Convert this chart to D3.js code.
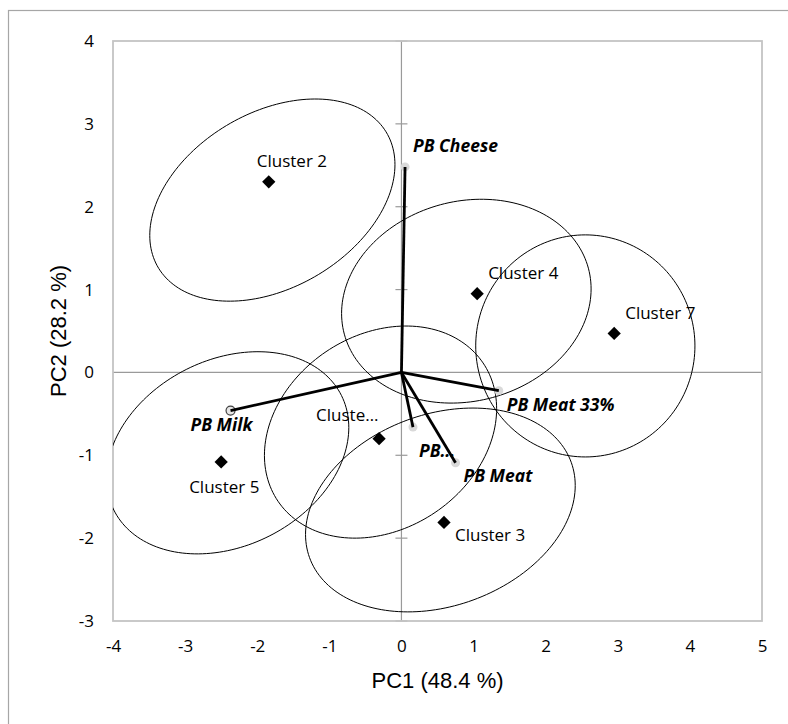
<!DOCTYPE html>
<html>
<head>
<meta charset="utf-8">
<script src="https://cdn.jsdelivr.net/npm/d3@7"></script>
<style>
  body { margin: 0; background: #fff; }
  svg { display: block; }
  .tick-label { font-family: 'Open Sans', sans-serif; font-size: 17px; fill: #000; }
  .axis-title { font-family: 'Liberation Sans', Arial, sans-serif; font-size: 22px; fill: #000; }
  .cluster-label { font-family: 'Open Sans', sans-serif; font-size: 17px; fill: #000; }
  .loading-label { font-family: 'Open Sans', sans-serif; font-size: 17.5px; font-weight: bold; font-style: italic; fill: #000; }
</style>
</head>
<body>
<svg id="chart"></svg>
<script>
'use strict';

// cluster centroids
const clusterNames = ['Cluster 2', 'Cluster 4', 'Cluster 7', 'Cluster 5', 'Cluste\u2026', 'Cluster 3'];
const clusterPC1 = [-1.84, 1.05, 2.95, -2.50, -0.31, 0.59];
const clusterPC2 = [2.30, 0.95, 0.47, -1.08, -0.80, -1.81];

// confidence ellipses: centre, half extent along each axis, correlation
const ellipseCX = [-1.79, 0.90, 2.55, -2.41, -0.29, 0.54];
const ellipseCY = [2.08, 0.86, 0.32, -0.97, -0.72, -1.66];
const ellipseRX = [1.70, 1.73, 1.52, 1.68, 1.61, 1.87];
const ellipseRY = [1.22, 1.23, 1.34, 1.22, 1.28, 1.23];
const ellipseRho = [0.35, 0.12, 0.00, 0.25, 0.22, 0.24];

// product loadings
const loadingNames = ['PB Cheese', 'PB Milk', 'PB Meat 33%', 'PB\u2026', 'PB Meat'];
const loadingPC1 = [0.05, -2.37, 1.35, 0.16, 0.75];
const loadingPC2 = [2.48, -0.46, -0.22, -0.66, -1.09];

const xTicks = [-4, -3, -2, -1, 0, 1, 2, 3, 4, 5];
const yTicks = [-3, -2, -1, 0, 1, 2, 3, 4];

// label nudges in pixels (left / baseline relative to the point)
const clusterNudge = [[-12, -15], [11, -15], [11, -14], [-32, 31], [-63, -18], [11, 19]];
const loadingNudge = [[8, -15], [-40, 20], [8, 20], [6, 30], [8, 19.5]];

const W = 788, H = 724;
const plot = { left: 113, top: 41, right: 762, bottom: 621 };

const svg = d3.select('#chart')
    .attr('width', W)
    .attr('height', H);

// outer chart frame (runs off the page right and bottom)
svg.append('rect')
    .attr('x', 8.5).attr('y', 10.5)
    .attr('width', W).attr('height', H)
    .attr('fill', 'none')
    .attr('stroke', '#a6a6a6')
    .attr('stroke-width', 1.2);

const x = d3.scaleLinear().domain([-4, 5]).range([plot.left, plot.right]);
const y = d3.scaleLinear().domain([-3, 4]).range([plot.bottom, plot.top]);

svg.append('clipPath')
    .attr('id', 'plot-clip')
  .append('rect')
    .attr('x', plot.left).attr('y', plot.top)
    .attr('width', plot.right - plot.left)
    .attr('height', plot.bottom - plot.top);

// plain hyphen minus, no decimals
const fmt = d => String(d);

// tick labels, Excel style: y labels low on the left, x labels below
svg.append('g')
    .attr('transform', `translate(${plot.left},0)`)
    .call(d3.axisLeft(y).tickValues(yTicks).tickFormat(fmt).tickSize(0).tickPadding(19))
    .call(g => g.select('.domain').remove())
    .selectAll('text')
    .attr('class', 'tick-label');

svg.append('g')
    .attr('transform', `translate(0,${plot.bottom})`)
    .call(d3.axisBottom(x).tickValues(xTicks).tickFormat(fmt).tickSize(0).tickPadding(19))
    .call(g => g.select('.domain').remove())
    .selectAll('text')
    .attr('class', 'tick-label');

// zero lines and cross ticks on the vertical one
svg.append('line')
    .attr('x1', plot.left).attr('x2', plot.right)
    .attr('y1', y(0)).attr('y2', y(0))
    .attr('stroke', '#9a9a9a')
    .attr('stroke-width', 1.2);

svg.append('line')
    .attr('x1', x(0)).attr('x2', x(0))
    .attr('y1', plot.top).attr('y2', plot.bottom)
    .attr('stroke', '#9a9a9a')
    .attr('stroke-width', 1.2);

svg.append('g')
    .selectAll('line')
    .data(yTicks)
  .enter().append('line')
    .attr('x1', x(0) - 6).attr('x2', x(0) + 6)
    .attr('y1', d => y(d)).attr('y2', d => y(d))
    .attr('stroke', '#9a9a9a')
    .attr('stroke-width', 1.2);

// plot area border
svg.append('rect')
    .attr('x', plot.left).attr('y', plot.top)
    .attr('width', plot.right - plot.left)
    .attr('height', plot.bottom - plot.top)
    .attr('fill', 'none')
    .attr('stroke', '#c4c4c4')
    .attr('stroke-width', 1.8);

// ellipses
const ellipses = ellipseCX.map((cx, i) => ({
  cx, cy: ellipseCY[i], rx: ellipseRX[i], ry: ellipseRY[i], rho: ellipseRho[i]
}));

const ellipseLine = d3.line()
    .x(p => x(p[0]))
    .y(p => y(p[1]))
    .curve(d3.curveLinearClosed);

const ellipsePoints = e => d3.range(0, 2 * Math.PI, Math.PI / 90).map(t => [
  e.cx + e.rx * Math.cos(t),
  e.cy + e.ry * (e.rho * Math.cos(t) + Math.sqrt(1 - e.rho * e.rho) * Math.sin(t))
]);

svg.append('g')
    .attr('clip-path', 'url(#plot-clip)')
    .selectAll('path')
    .data(ellipses)
  .enter().append('path')
    .attr('d', d => ellipseLine(ellipsePoints(d)))
    .attr('fill', 'none')
    .attr('stroke', '#000')
    .attr('stroke-width', 1);

// loading vectors
const loadings = loadingNames.map((name, i) => ({ name, pc1: loadingPC1[i], pc2: loadingPC2[i] }));

svg.append('g')
    .selectAll('circle')
    .data(loadings)
  .enter().append('circle')
    .attr('cx', d => x(d.pc1))
    .attr('cy', d => y(d.pc2))
    .attr('r', 4.5)
    .attr('fill', d => d.name === 'PB Milk' ? '#e6e6e6' : '#d9d9d9')
    .attr('stroke', d => d.name === 'PB Milk' ? '#404040' : 'none')
    .attr('stroke-width', 1.2);

svg.append('g')
    .selectAll('line')
    .data(loadings)
  .enter().append('line')
    .attr('x1', x(0)).attr('y1', y(0))
    .attr('x2', d => x(d.pc1))
    .attr('y2', d => y(d.pc2))
    .attr('stroke', '#000')
    .attr('stroke-width', 2.8)
    .attr('stroke-linecap', 'butt');

svg.append('g')
    .selectAll('text')
    .data(loadings)
  .enter().append('text')
    .attr('class', 'loading-label')
    .attr('x', (d, i) => x(d.pc1) + loadingNudge[i][0])
    .attr('y', (d, i) => y(d.pc2) + loadingNudge[i][1])
    .text(d => d.name);

// cluster centroids
const clusters = clusterNames.map((name, i) => ({ name, pc1: clusterPC1[i], pc2: clusterPC2[i] }));

svg.append('g')
    .selectAll('path')
    .data(clusters)
  .enter().append('path')
    .attr('d', d3.symbol(d3.symbolSquare, 88))
    .attr('transform', d => `translate(${x(d.pc1)},${y(d.pc2)}) rotate(45)`)
    .attr('fill', '#000');

svg.append('g')
    .selectAll('text')
    .data(clusters)
  .enter().append('text')
    .attr('class', 'cluster-label')
    .attr('x', (d, i) => x(d.pc1) + clusterNudge[i][0])
    .attr('y', (d, i) => y(d.pc2) + clusterNudge[i][1])
    .text(d => d.name);

// axis titles
svg.append('text')
    .attr('class', 'axis-title')
    .attr('x', (plot.left + plot.right) / 2)
    .attr('y', 688)
    .attr('text-anchor', 'middle')
    .text('PC1 (48.4 %)');

svg.append('text')
    .attr('class', 'axis-title')
    .attr('transform', `translate(66,${(plot.top + plot.bottom) / 2}) rotate(-90)`)
    .attr('text-anchor', 'middle')
    .text('PC2 (28.2 %)');
</script>
</body>
</html>
